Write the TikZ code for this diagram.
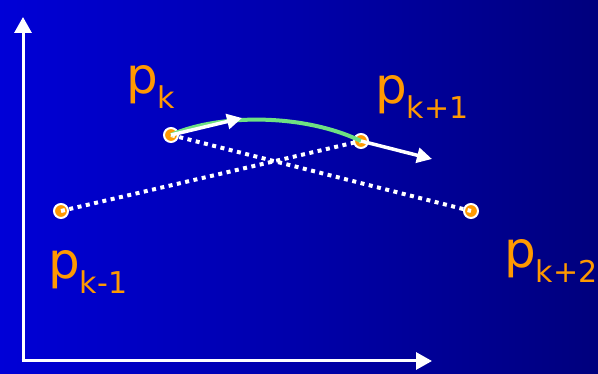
\documentclass[tikz,border=0pt]{standalone}
\usepackage{fontspec}
\setmainfont{DejaVu Sans}
\usetikzlibrary{arrows.meta}
\definecolor{ptorange}{RGB}{255,153,0}
\definecolor{curvegreen}{RGB}{110,225,130}
\definecolor{bgleft}{RGB}{0,0,215}
\definecolor{bgright}{RGB}{0,0,125}
\begin{document}
\begin{tikzpicture}[x=1pt,y=-1pt,
  axis/.style={white,line width=3pt,-{Triangle[width=17pt,length=16pt]}},
  tangent/.style={white,line width=3.5pt,-{Triangle[width=15pt,length=15pt]}},
  dotline/.style={white,line width=4pt,dash pattern=on 4pt off 4.5pt},
  ctrlpt/.style={circle,fill=ptorange,draw=white,line width=2pt,minimum size=14pt,inner sep=0pt},
  lbl/.style={text=ptorange,inner sep=0pt,anchor=base west,font=\fontsize{50}{50}\selectfont}]
\shade[left color=bgleft,right color=bgright] (0,0) rectangle (598,374);
\useasboundingbox (0,0) rectangle (598,374);
% axes
\coordinate (o) at (23,361);
\coordinate (ytip) at (23,17);
\coordinate (xtip) at (432,361);
\draw[axis] (o) -- (ytip);
\draw[axis] ([xshift=-1.5pt]o) -- (xtip);
% points
\node[ctrlpt] (pkm1) at (61,211) {};
\node[ctrlpt] (pk) at (171,135) {};
\node[ctrlpt] (pkp1) at (361,141) {};
\node[ctrlpt] (pkp2) at (471,211) {};
% dotted chords
\draw[dotline] (pkm1.center) -- (pkp1.center);
\draw[dotline] (pk.center) -- (pkp2.center);
% curve
\draw[curvegreen,line width=4pt] (pk.center) .. controls (215,115) and (300,112) .. (pkp1.center);
% tangents
\coordinate (tk) at (242,118);
\coordinate (tkp1) at (432,159);
\draw[tangent] (pk.center) -- (tk);
\draw[tangent] (pkp1.center) -- (tkp1);
% labels
\node[lbl] (lk) at (126,94) {p\raisebox{-15pt}{\fontsize{30}{30}\selectfont k}};
\node[lbl] (lkp1) at (375,104) {p\raisebox{-15pt}{\fontsize{30}{30}\selectfont k+1}};
\node[lbl] (lkm1) at (48,279) {p\raisebox{-15pt}{\fontsize{30}{30}\selectfont k-1}};
\node[lbl] (lkp2) at (504,268) {p\raisebox{-15pt}{\fontsize{30}{30}\selectfont k+2}};
\end{tikzpicture}
\end{document}
